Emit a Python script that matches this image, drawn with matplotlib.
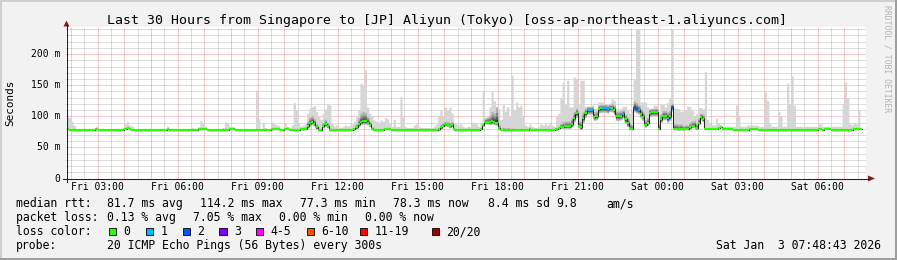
import numpy as np
import matplotlib
matplotlib.use("Agg")
import matplotlib.pyplot as plt
from matplotlib.patches import Rectangle, Polygon
from matplotlib.lines import Line2D
from matplotlib.collections import LineCollection
from matplotlib.transforms import blended_transform_factory

# ---------------- data ----------------
title = "Last 30 Hours from Singapore to [JP] Aliyun (Tokyo) [oss-ap-northeast-1.aliyuncs.com]"
x_tick_hours = [3, 6, 9, 12, 15, 18, 21, 24, 27, 30]
x_tick_labels = ["Fri 03:00", "Fri 06:00", "Fri 09:00", "Fri 12:00", "Fri 15:00",
                 "Fri 18:00", "Fri 21:00", "Sat 00:00", "Sat 03:00", "Sat 06:00"]
y_ticks = [0, 50, 100, 150, 200]
y_tick_labels = ["0", "50 m", "100 m", "150 m", "200 m"]

nan = float("nan")
# median rtt per 5-minute step (ms), first step starts Fri 01:50
median_rtt = [
    79,78,78,78,78,78,78,78,78,78,78,78,78,79,78,78,78,78,78,78,
    78,78,78,78,78,78,80,81,79,78,78,78,78,78,78,78,78,78,78,78,
    78,78,78,78,78,79,78,78,78,78,78,78,78,78,78,78,78,78,78,79,
    80,80,79,78,78,78,78,78,78,78,78,78,78,79,80,79,78,78,78,78,
    78,78,78,78,78,78,78,78,78,78,78,78,79,80,80,79,78,78,79,79,
    78,78,78,78,78,79,79,80,84,89,91,88,82,78,78,84,87,84,78,78,
    78,78,78,78,78,78,78,78,78,79,82,87,91,92,92,90,86,80,78,78,
    78,78,78,80,80,79,78,78,78,78,78,78,78,78,78,78,78,78,78,78,
    78,78,78,78,78,78,78,79,82,85,87,86,84,86,79,78,78,78,78,78,
    78,78,78,78,78,78,79,86,91,91,91,92,91,90,81,78,78,78,78,78,
    78,78,78,78,78,78,78,78,79,78,78,78,78,78,78,78,78,78,78,78,
    79,81,83,83,84,84,84,88,98,105,85,82,97,105,110,110,110,99,100,112,
    113,113,113,112,114,114,110,100,100,101,104,95,89,81,80,114,112,110,104,99,
    86,90,106,107,107,107,80,95,101,101,97,100,115,80,80,79,80,79,80,80,
    82,84,85,81,90,99,95,79,79,79,79,79,79,81,82,79,79,79,79,79,
    78,78,78,78,78,78,78,80,80,80,79,78,78,78,78,78,78,78,78,78,
    78,78,78,78,78,78,78,78,78,78,78,78,78,78,78,78,78,78,80,80,
    78,80,80,80,78,78,78,78,78,78,78,78,78,78,80,80,80,80,nan,nan,
]
# slowest ping per step (ms)
max_rtt = [
    102,98,92,85,80,80,80,80,80,80,80,80,80,84,80,80,80,80,80,80,
    80,80,80,80,80,82,88,91,86,84,80,80,80,80,80,80,80,80,80,80,
    80,80,80,80,80,84,80,80,80,80,80,80,80,80,80,80,82,80,80,83,
    93,88,84,80,80,80,80,80,80,80,82,91,90,84,84,82,80,80,80,80,
    80,80,80,80,80,142,96,80,90,82,80,80,91,88,86,85,80,80,90,84,
    82,86,122,110,88,84,86,90,105,113,115,117,108,100,95,105,112,121,118,90,
    84,86,84,82,84,86,84,86,88,92,100,110,153,150,175,115,105,100,94,92,
    90,94,92,98,96,88,84,95,84,84,132,100,84,82,82,82,86,88,84,82,
    82,82,82,82,82,84,88,100,110,100,115,110,115,105,88,88,86,88,84,82,
    84,84,91,90,88,84,90,142,98,96,115,140,125,115,112,95,120,108,115,100,
    166,110,123,115,118,100,86,84,88,84,82,82,84,88,86,88,86,88,86,84,
    100,105,130,155,120,158,115,115,163,160,118,158,158,116,116,116,118,113,113,123,
    123,123,120,120,121,128,125,112,112,113,116,116,110,105,108,160,241,241,123,123,
    123,115,112,112,118,118,105,119,119,115,122,130,241,113,113,112,108,108,110,116,
    116,110,100,104,114,114,112,172,95,88,87,86,97,90,86,84,84,85,84,84,
    84,118,100,84,84,84,86,86,86,86,86,84,84,84,139,125,88,84,84,84,
    108,100,84,84,153,120,165,118,84,84,84,84,84,84,84,84,84,84,88,88,
    84,84,84,84,84,84,84,84,84,120,155,130,88,86,90,88,110,145,nan,nan,
]
# spread of the dense smoke above / below the median (ms)
smoke_up = [
    0,0,0,0,0,0,0,0,0,0,0,0,0,0,0,0,0,0,0,0,
    0,0,0,0,0,0,2,2,0,0,0,0,0,0,0,0,0,0,0,0,
    0,0,0,0,0,0,0,0,0,0,0,0,0,0,0,0,0,0,0,0,
    2,0,0,0,0,0,0,0,0,0,0,0,0,0,0,0,0,0,0,0,
    0,0,0,0,0,2,0,0,0,0,0,0,0,0,0,0,0,0,0,0,
    0,0,1,1,0,0,2,3,8,10,10,8,6,3,2,6,8,6,3,1,
    0,0,0,0,0,0,0,0,0,1,6,10,14,16,14,10,6,3,1,0,
    0,1,1,2,2,1,0,0,0,0,2,1,0,0,0,0,0,0,0,0,
    0,0,0,0,0,0,1,3,5,5,5,5,6,5,2,0,0,0,0,0,
    0,0,0,0,0,0,1,4,6,8,10,16,14,25,6,1,4,3,4,1,
    3,2,2,1,1,0,0,0,0,0,0,0,0,0,0,1,1,1,1,1,
    2,3,6,8,8,8,8,10,10,8,8,10,10,8,6,6,6,8,8,6,
    6,6,6,6,5,6,8,8,8,8,6,8,10,8,6,10,10,8,8,8,
    8,8,6,6,6,6,8,8,8,8,10,10,6,8,8,8,8,6,6,6,
    8,8,8,8,8,6,8,2,1,1,0,0,1,1,0,0,0,0,0,0,
    0,0,0,0,0,0,0,0,0,0,0,0,0,0,0,0,0,0,0,0,
    0,0,0,0,0,0,0,0,0,0,0,0,0,0,0,0,0,0,0,0,
    0,0,0,0,0,0,0,0,0,0,0,0,0,0,0,0,0,0,0,0,
]
smoke_dn = [
    0,0,0,0,0,0,0,0,0,0,0,0,0,0,0,0,0,0,0,0,
    0,0,0,0,0,0,0,0,0,0,0,0,0,0,0,0,0,0,0,0,
    0,0,0,0,0,0,0,0,0,0,0,0,0,0,0,0,0,0,0,0,
    0,0,0,0,0,0,0,0,0,0,0,0,0,0,0,0,0,0,0,0,
    0,0,0,0,0,0,0,0,0,0,0,0,0,0,0,0,0,0,0,0,
    0,0,0,0,0,0,1,1,3,4,4,3,2,1,1,2,3,2,1,0,
    0,0,0,0,0,0,0,0,0,0,2,3,4,4,4,3,2,1,0,0,
    0,0,0,0,0,0,0,0,0,0,0,0,0,0,0,0,0,0,0,0,
    0,0,0,0,0,0,0,1,2,2,2,2,2,2,1,0,0,0,0,0,
    0,0,0,0,0,0,0,2,3,3,4,4,4,4,2,0,0,0,0,0,
    0,0,0,0,0,0,0,0,0,0,0,0,0,0,0,0,0,0,0,0,
    1,1,2,2,3,3,3,4,6,6,3,3,6,6,6,6,6,5,5,6,
    6,6,6,6,6,6,6,6,6,6,6,6,5,2,1,6,6,6,6,6,
    3,4,6,6,6,6,1,4,6,6,6,6,6,1,1,1,1,1,1,1,
    2,2,2,2,3,4,3,0,0,0,0,0,0,0,0,0,0,0,0,0,
    0,0,0,0,0,0,0,0,0,0,0,0,0,0,0,0,0,0,0,0,
    0,0,0,0,0,0,0,0,0,0,0,0,0,0,0,0,0,0,0,0,
    0,0,0,0,0,0,0,0,0,0,0,0,0,0,0,0,0,0,0,0,
]
# lost pings per step (out of 20)
lost = [
    0,0,0,0,0,0,0,0,0,0,0,0,0,0,0,0,0,0,0,0,
    0,0,0,0,0,0,0,0,0,0,0,0,0,0,0,0,0,0,0,0,
    0,0,0,0,0,0,0,0,0,0,0,0,0,0,0,0,0,0,0,0,
    0,0,0,0,0,0,0,0,0,0,0,0,0,0,0,0,0,0,0,0,
    0,0,0,0,0,0,0,0,0,0,0,0,0,0,0,0,0,0,0,0,
    0,0,0,0,0,0,0,0,0,0,0,0,0,0,0,0,0,0,0,0,
    0,0,0,0,0,0,0,0,0,0,0,0,0,0,0,0,0,0,0,0,
    0,0,0,0,0,0,0,0,0,0,0,0,0,0,0,0,0,0,0,0,
    0,0,0,0,0,0,0,0,0,0,0,0,0,0,0,0,0,0,0,0,
    0,0,0,0,0,0,0,0,0,0,0,0,0,0,0,0,0,0,0,0,
    0,0,0,0,0,0,0,0,0,0,0,0,0,0,0,0,0,0,0,0,
    0,0,0,0,0,0,0,0,0,0,0,0,0,0,1,1,1,0,0,0,
    0,1,1,1,1,0,0,0,0,0,1,0,0,0,0,2,2,1,0,0,
    0,0,0,0,0,0,0,0,0,0,1,0,2,0,0,0,0,0,0,0,
    0,0,0,0,0,0,0,0,0,0,0,0,0,0,0,0,0,0,0,0,
    0,0,0,0,0,0,0,0,0,0,0,0,0,0,0,0,0,0,0,0,
    0,0,0,0,0,0,0,0,0,0,0,0,0,0,0,0,0,0,0,0,
    0,0,0,0,0,0,0,0,0,0,0,0,0,0,0,0,0,0,0,0,
]
loss_labels = ["0", "1", "2", "3", "4-5", "6-10", "11-19", "20/20"]
loss_colors = ["#26ff00", "#00b8ff", "#0059ff", "#7e00ff", "#ff00ff", "#ff5500", "#ff0000", "#a10000"]
loss_upper = [0, 1, 2, 3, 5, 10, 19, 20]

rtt_avg, rtt_max, rtt_min, rtt_now, rtt_sd, rtt_ams = 81.7, 114.2, 77.3, 78.3, 8.4, 9.8
loss_avg, loss_max, loss_min, loss_now = 0.13, 7.05, 0.00, 0.00
probe_text = "20 ICMP Echo Pings (56 Bytes) every 300s"
stamp_text = "Sat Jan  3 07:48:43 2026"

# ---------------- layout ----------------
W, H = 897, 260
MONO = "DejaVu Sans Mono"
fig = plt.figure(figsize=(W / 100, H / 100), dpi=100, facecolor="#f2f2f2")

def fx(p):
    return p / W

def fy(p):
    return 1 - p / H

# bevel frame
for (x0, y0, w, h, c) in [(0, 0, 2, H, "#cfcfcf"), (0, 0, W, 2, "#cfcfcf"),
                           (W - 2, 0, 2, H, "#9e9e9e"), (0, H - 2, W, 2, "#9e9e9e")]:
    fig.patches.append(Rectangle((fx(x0), fy(y0 + h)), w / W, h / H, transform=fig.transFigure,
                                 facecolor=c, edgecolor="none", zorder=0))

T_START = 1 + 48 / 60 + 43 / 3600
T_END = T_START + 30
AX_L, AX_R, AX_T, AX_B = 66, 866, 27, 178.5
ax = fig.add_axes([fx(AX_L), fy(AX_B), (AX_R - AX_L) / W, (AX_B - AX_T) / H])
ax.set_facecolor("white")
ax.set_xlim(T_START, T_END)
YMAX = 243.5
ax.set_ylim(0, YMAX)
for s in ax.spines.values():
    s.set_visible(False)
ax.set_xticks([])
ax.set_yticks([])

# grid
grid_c = (0.56, 0.56, 0.56, 0.6)
mgrid_c = (0.87, 0.31, 0.31, 0.6)
h = np.ceil(T_START * 2) / 2
while h < T_END:
    is_major = abs(h - round(h)) < 1e-6
    ax.axvline(h, color=mgrid_c if is_major else grid_c, lw=0.72, ls=(0, (1, 1)), zorder=1)
    h += 0.5
for v in range(10, 250, 10):
    if v > YMAX:
        break
    ax.axhline(v, color=mgrid_c if v % 50 == 0 else grid_c, lw=0.72, ls=(0, (1, 1)), zorder=1)

# smoke
N = len(median_rtt)
t0 = 1 + 50 / 60
t = t0 + np.arange(N) / 12.0
te = np.append(t, t[-1] + 1 / 12.0)
med = np.array(median_rtt, float)
hi = np.array(max_rtt, float)
up = np.array(smoke_up, float)
dn = np.array(smoke_dn, float)

def ext(a):
    return np.append(a, a[-1])

ax.fill_between(te, ext(med - dn - 1.0), ext(hi), step="post", color="#d6d6d6", lw=0, zorder=2)
for frac, col in [(1.0, "#b0b0b0"), (0.65, "#888888"), (0.4, "#5c5c5c"), (0.2, "#363636")]:
    ax.fill_between(te, ext(med - dn * frac), ext(med + up * frac), step="post",
                    color=col, lw=0, zorder=3)

# black connecting median line
ax.step(te, ext(med), where="post", color="#202020", lw=0.7, zorder=4)

# coloured median segments by loss
def loss_color(n):
    for ub, c in zip(loss_upper, loss_colors):
        if n <= ub:
            return c
    return loss_colors[-1]

segs, cols = [], []
for i in range(N):
    if np.isnan(med[i]):
        continue
    segs.append([(te[i], med[i]), (te[i + 1], med[i])])
    cols.append(loss_color(lost[i]))
ax.add_collection(LineCollection(segs, colors=cols, linewidths=1.6, zorder=5, capstyle="butt"))

# axes lines + arrows
axis_c = "#1f1f1f"
fig.lines.append(Line2D([fx(66.5), fx(66.5)], [fy(181.5), fy(25)], transform=fig.transFigure,
                        color=axis_c, lw=0.75))
fig.lines.append(Line2D([fx(63), fx(869)], [fy(178.5), fy(178.5)], transform=fig.transFigure,
                        color=axis_c, lw=0.75))
arrow_c = "#801f1f"
fig.patches.append(Polygon([(fx(63.5), fy(26.5)), (fx(69.5), fy(26.5)), (fx(66.5), fy(20.5))],
                           closed=True, transform=fig.transFigure, facecolor=arrow_c, edgecolor="none"))
fig.patches.append(Polygon([(fx(868), fy(175.5)), (fx(868), fy(181.5)), (fx(875), fy(178.5))],
                           closed=True, transform=fig.transFigure, facecolor=arrow_c, edgecolor="none"))

# tick labels
tr_x = blended_transform_factory(ax.transData, fig.transFigure)
for hh, lab in zip(x_tick_hours, x_tick_labels):
    ax.text(hh, fy(190.5), lab, transform=tr_x, ha="center", va="baseline",
            fontsize=7, family=MONO, color="black")
tr_y = blended_transform_factory(fig.transFigure, ax.transData)
for v, lab in zip(y_ticks, y_tick_labels):
    ax.text(fx(60.5), v, lab, transform=tr_y, ha="right", va="center",
            fontsize=7, family=MONO, color="black")

fig.text(fx(10.5), fy(103), "Seconds", rotation=90, ha="center", va="center",
         fontsize=7.9, family=MONO)
fig.text(fx(446.7), fy(24), title, ha="center", va="baseline", fontsize=9.5, family=MONO)
fig.text(fx(887), fy(59), "RRDTOOL / TOBI OETIKER", rotation=270, ha="center", va="center",
         fontsize=5.8, family=MONO, color="#b4b4b4")

# legend
LF = 8.3
def ltext(x, y, s):
    fig.text(fx(x), fy(y), s, ha="left", va="baseline", fontsize=LF, family=MONO)

r1, r2, r3, r4 = 207.3, 221.3, 235.3, 249.3
ltext(16, r1, "median rtt:")
ltext(107.3, r1, f"{rtt_avg:.1f} ms avg")
ltext(200, r1, f"{rtt_max:.1f} ms max")
ltext(300.5, r1, f"{rtt_min:.1f} ms min")
ltext(392.7, r1, f"{rtt_now:.1f} ms now")
ltext(487.7, r1, f"{rtt_sd:.1f} ms sd")
ltext(556.7, r1, f"{rtt_ams:.1f}")
ltext(606.7, r1, "am/s")

ltext(16, r2, "packet loss:")
ltext(107.3, r2, f"{loss_avg:.2f} % avg")
ltext(193, r2, f"{loss_max:.2f} % max")
ltext(279.3, r2, f"{loss_min:.2f} % min")
ltext(365, r2, f"{loss_now:.2f} % now")

ltext(16, r3, "loss color:")
box_x = [108.7, 145.7, 182.7, 219.3, 256, 306.7, 360, 431.7]
for bx, lab, col in zip(box_x, loss_labels, loss_colors):
    fig.patches.append(Rectangle((fx(bx), fy(235)), 7.3 / W, 7.3 / H, transform=fig.transFigure,
                                 facecolor=col, edgecolor="black", lw=0.6))
    ltext(bx + 14.8, r3, lab)

ltext(16, r4, "probe:")
ltext(107.3, r4, probe_text)
fig.text(fx(880.5), fy(r4), stamp_text, ha="right", va="baseline", fontsize=LF, family=MONO)

fig.savefig("out.png", dpi=100, facecolor=fig.get_facecolor())
